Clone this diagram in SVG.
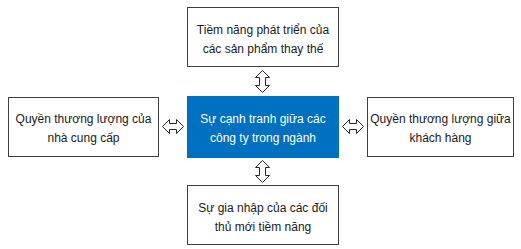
<svg xmlns="http://www.w3.org/2000/svg" width="521" height="249" viewBox="0 0 521 249">
  <style>
    .box { fill: #ffffff; stroke: #3f3f3f; stroke-width: 1; }
    .core { fill: #0070c0; stroke: none; }
    .lbl { font-family: "Liberation Sans", Arial, sans-serif; font-size: 12px; fill: #1a1a1a; text-anchor: middle; }
    .lbl-w { fill: #ffffff; }
    .arr { fill: #ffffff; stroke: #262626; stroke-width: 1; stroke-linejoin: miter; }
  </style>
  <rect width="521" height="249" fill="#ffffff"/>

  <!-- connectors: double-headed block arrows -->
  <g id="connectors">
    <!-- top box to core -->
    <polygon class="arr" points="262.5,70.5 269.5,77.5 265.5,77.5 265.5,85.5 269.5,85.5 262.5,92.5 255.5,85.5 259.5,85.5 259.5,77.5 255.5,77.5"/>
    <!-- core to bottom box -->
    <polygon class="arr" points="262.5,160.5 269.5,167.5 265.5,167.5 265.5,175.5 269.5,175.5 262.5,182.5 255.5,175.5 259.5,175.5 259.5,167.5 255.5,167.5"/>
    <!-- left box to core -->
    <polygon class="arr" points="162.5,126.5 169.5,119.5 169.5,123.5 176.5,123.5 176.5,119.5 183.5,126.5 176.5,133.5 176.5,129.5 169.5,129.5 169.5,133.5"/>
    <!-- core to right box -->
    <polygon class="arr" points="342.5,126.5 349.5,119.5 349.5,123.5 356.5,123.5 356.5,119.5 363.5,126.5 356.5,133.5 356.5,129.5 349.5,129.5 349.5,133.5"/>
  </g>

  <g id="node-substitutes">
    <rect class="box" x="187.5" y="7.5" width="151" height="59"/>
    <text class="lbl" x="263" y="34">Tiềm năng phát triển của</text>
    <text class="lbl" x="263" y="53">các sản phẩm thay thế</text>
  </g>

  <g id="node-suppliers">
    <rect class="box" x="8.5" y="97.5" width="150" height="59"/>
    <text class="lbl" x="83.5" y="123">Quyền thương lượng của</text>
    <text class="lbl" x="83.5" y="142">nhà cung cấp</text>
  </g>

  <g id="node-rivalry">
    <rect class="core" x="187" y="96" width="152" height="62"/>
    <text class="lbl lbl-w" x="263" y="123">Sự cạnh tranh giữa các</text>
    <text class="lbl lbl-w" x="263" y="142">công ty trong ngành</text>
  </g>

  <g id="node-buyers">
    <rect class="box" x="367.5" y="97.5" width="146" height="59"/>
    <text class="lbl" x="440.5" y="123">Quyền thương lượng giữa</text>
    <text class="lbl" x="440.5" y="142">khách hàng</text>
  </g>

  <g id="node-entrants">
    <rect class="box" x="187.5" y="185.5" width="151" height="59"/>
    <text class="lbl" x="263" y="212">Sự gia nhập của các đối</text>
    <text class="lbl" x="263" y="231">thủ mới tiềm năng</text>
  </g>
</svg>
